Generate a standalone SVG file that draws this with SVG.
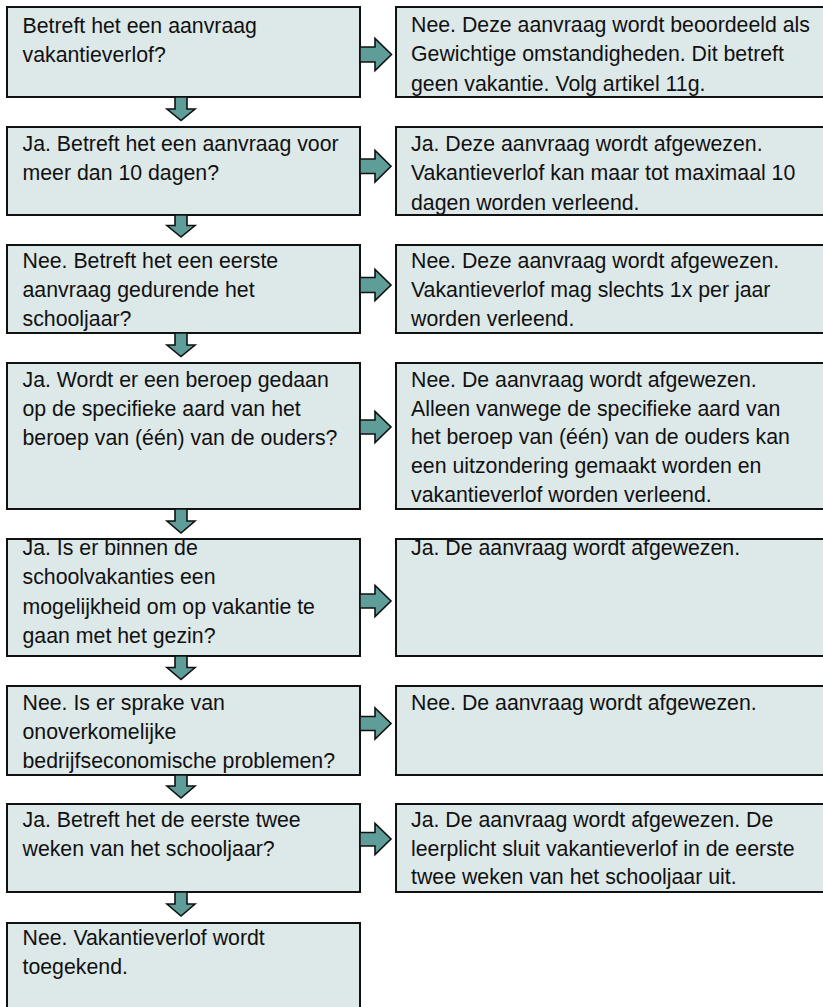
<svg xmlns="http://www.w3.org/2000/svg" width="823" height="1007" viewBox="0 0 823 1007">
<style>
.box{fill:#dde8e8;stroke:#111;stroke-width:2}
.t{font-family:"Liberation Sans",Arial,sans-serif;font-size:21.3px;fill:#111}
.arr{fill:#5f9e98;stroke:#111;stroke-width:1.6;stroke-linejoin:miter}
</style>
<rect width="823" height="1007" fill="#fff"/>
<g id="q1"><rect class="box" x="7" y="7" width="353" height="90"/><text class="t" x="22.5" y="32.5">Betreft het een aanvraag</text><text class="t" x="22.5" y="61.8">vakantieverlof?</text></g>
<g id="a1"><rect class="box" x="396" y="7" width="430" height="90"/><text class="t" x="411" y="32">Nee. Deze aanvraag wordt beoordeeld als</text><text class="t" x="411" y="61.3">Gewichtige omstandigheden. Dit betreft</text><text class="t" x="411" y="90.6">geen vakantie. Volg artikel 11g.</text></g>
<g id="q2"><rect class="box" x="7" y="127" width="353" height="88"/><text class="t" x="22.5" y="151">Ja. Betreft het een aanvraag voor</text><text class="t" x="22.5" y="180.3">meer dan 10 dagen?</text></g>
<g id="a2"><rect class="box" x="396" y="127" width="430" height="88"/><text class="t" x="411" y="151">Ja. Deze aanvraag wordt afgewezen.</text><text class="t" x="411" y="180.3">Vakantieverlof kan maar tot maximaal 10</text><text class="t" x="411" y="209.6">dagen worden verleend.</text></g>
<g id="q3"><rect class="box" x="7" y="245" width="353" height="88"/><text class="t" x="22.5" y="267.5">Nee. Betreft het een eerste</text><text class="t" x="22.5" y="296.8">aanvraag gedurende het</text><text class="t" x="22.5" y="326.1">schooljaar?</text></g>
<g id="a3"><rect class="box" x="396" y="245" width="430" height="88"/><text class="t" x="411" y="267.5">Nee. Deze aanvraag wordt afgewezen.</text><text class="t" x="411" y="296.8">Vakantieverlof mag slechts 1x per jaar</text><text class="t" x="411" y="326.1">worden verleend.</text></g>
<g id="q4"><rect class="box" x="7" y="363" width="353" height="146"/><text class="t" x="22.5" y="386.8">Ja. Wordt er een beroep gedaan</text><text class="t" x="22.5" y="415.8">op de specifieke aard van het</text><text class="t" x="22.5" y="444.8">beroep van (één) van de ouders?</text></g>
<g id="a4"><rect class="box" x="396" y="363" width="430" height="146"/><text class="t" x="411" y="386.8">Nee. De aanvraag wordt afgewezen.</text><text class="t" x="411" y="415.6">Alleen vanwege de specifieke aard van</text><text class="t" x="411" y="444.4">het beroep van (één) van de ouders kan</text><text class="t" x="411" y="473.2">een uitzondering gemaakt worden en</text><text class="t" x="411" y="502">vakantieverlof worden verleend.</text></g>
<g id="q5"><rect class="box" x="7" y="539" width="353" height="117"/><text class="t" x="22.5" y="555">Ja. Is er binnen de</text><text class="t" x="22.5" y="584.3">schoolvakanties een</text><text class="t" x="22.5" y="613.6">mogelijkheid om op vakantie te</text><text class="t" x="22.5" y="642.9">gaan met het gezin?</text></g>
<g id="a5"><rect class="box" x="396" y="539" width="430" height="117"/><text class="t" x="411" y="555">Ja. De aanvraag wordt afgewezen.</text></g>
<g id="q6"><rect class="box" x="7" y="686" width="353" height="89"/><text class="t" x="22.5" y="710">Nee. Is er sprake van</text><text class="t" x="22.5" y="739.3">onoverkomelijke</text><text class="t" x="22.5" y="768.4">bedrijfseconomische problemen?</text></g>
<g id="a6"><rect class="box" x="396" y="686" width="430" height="89"/><text class="t" x="411" y="710">Nee. De aanvraag wordt afgewezen.</text></g>
<g id="q7"><rect class="box" x="7" y="804" width="353" height="88"/><text class="t" x="22.5" y="826.7">Ja. Betreft het de eerste twee</text><text class="t" x="22.5" y="856">weken van het schooljaar?</text></g>
<g id="a7"><rect class="box" x="396" y="804" width="430" height="88"/><text class="t" x="411" y="826.7">Ja. De aanvraag wordt afgewezen. De</text><text class="t" x="411" y="855.5">leerplicht sluit vakantieverlof in de eerste</text><text class="t" x="411" y="884.3">twee weken van het schooljaar uit.</text></g>
<g id="q8"><rect class="box" x="7" y="923" width="353" height="90"/><text class="t" x="22.5" y="945">Nee. Vakantieverlof wordt</text><text class="t" x="22.5" y="974">toegekend.</text></g>
<g id="connectors">
<polygon class="arr" points="360,47 375,47 375,38.5 391.5,54.5 375,70.5 375,62 360,62"/>
<polygon class="arr" points="360,159 375,159 375,150.5 391,166.2 375,182 375,173.5 360,173.5"/>
<polygon class="arr" points="360,277.5 375,277.5 375,269.5 391,285 375,300.5 375,292.5 360,292.5"/>
<polygon class="arr" points="360,420 375,420 375,411.5 391,427 375,442.5 375,434 360,434"/>
<polygon class="arr" points="360,594 375,594 375,585.5 391,601 375,616.5 375,608 360,608"/>
<polygon class="arr" points="360,716.5 375,716.5 375,708 391,723.5 375,739 375,730.5 360,730.5"/>
<polygon class="arr" points="360,832.5 375,832.5 375,823.5 391,839 375,854.5 375,846 360,846"/>
<polygon class="arr" points="175,97 187,97 187,109 195,109 181,120.5 167,109 175,109"/>
<polygon class="arr" points="175,215 187,215 187,225.5 195,225.5 181,237 167,225.5 175,225.5"/>
<polygon class="arr" points="175,333 187,333 187,345 195,345 181,356.5 167,345 175,345"/>
<polygon class="arr" points="175,509 187,509 187,521 195,521 181,533 167,521 175,521"/>
<polygon class="arr" points="175,656 187,656 187,667.5 195,667.5 181,679.5 167,667.5 175,667.5"/>
<polygon class="arr" points="175,775 187,775 187,786 195,786 181,798 167,786 175,786"/>
<polygon class="arr" points="175,892 187,892 187,904 195,904 181,916 167,904 175,904"/>
</g>
</svg>
